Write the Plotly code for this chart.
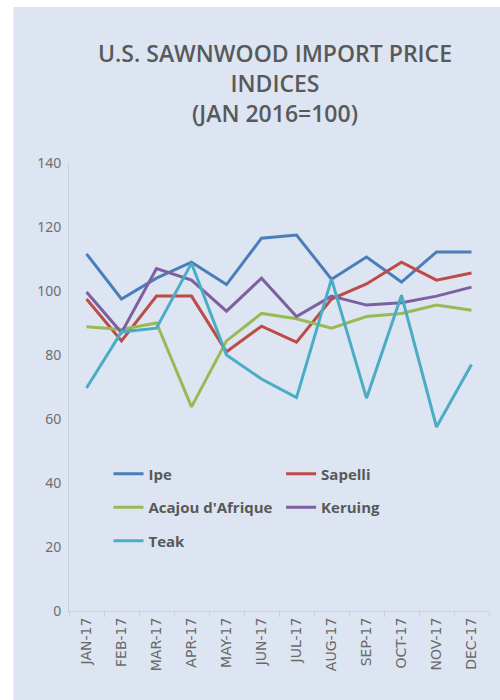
# Gráfico de índices de preço de importação de madeira serrada (EUA)
import plotly.graph_objects as go

# Cores
fundo = '#DCE5F1'
texto = '#595959'

# Dados
meses = ['JAN-17', 'FEB-17', 'MAR-17', 'APR-17', 'MAY-17', 'JUN-17',
         'JUL-17', 'AUG-17', 'SEP-17', 'OCT-17', 'NOV-17', 'DEC-17']
ipe = [111.6, 97.5, 104, 109, 102, 116.5, 117.5, 103.7, 110.6, 102.8, 112.2, 112.2]
sapelli = [97.5, 84.4, 98.4, 98.4, 81, 89, 84, 97.5, 102.2, 109, 103.4, 105.6]
acajou = [88.8, 88, 90, 63.8, 84.4, 93, 91.3, 88.4, 92, 93, 95.6, 94]
keruing = [99.7, 87, 107, 103.4, 93.7, 104, 92, 98.4, 95.6, 96.3, 98.4, 101.2]
teak = [69.7, 87.2, 88.4, 108.7, 80, 72.5, 66.7, 103.7, 66.5, 98.7, 57.5, 77]

series = [
    ('Ipe', ipe, '#4A7EBB', 'legend'),
    ('Sapelli', sapelli, '#BE4B48', 'legend2'),
    ("Acajou d'Afrique", acajou, '#98B954', 'legend'),
    ('Keruing', keruing, '#7D60A0', 'legend2'),
    ('Teak', teak, '#4BACC6', 'legend'),
]

fig = go.Figure()

for nome, valores, cor, leg in series:
    fig.add_trace(go.Scatter(
        x=meses,
        y=valores,
        mode='lines',
        name=nome,
        legend=leg,
        legendgroup=nome,
        line=dict(color=cor, width=3)
    ))

# Fundo azul do quadro (com faixa branca em cima e à esquerda)
fig.add_shape(type='rect', xref='paper', yref='paper',
              x0=-0.132, x1=1.1, y0=-0.25, y1=1.348,
              fillcolor=fundo, line=dict(width=0), layer='below')

legenda = dict(
    bgcolor='rgba(0,0,0,0)',
    font=dict(family='Open Sans', size=15, color=texto, weight='bold'),
    tracegroupgap=11,
    itemwidth=30,
    xanchor='left',
    yanchor='top'
)

fig.update_layout(
    width=500,
    height=700,
    title=dict(
        text='U.S. SAWNWOOD IMPORT PRICE<br>INDICES<br>(JAN 2016=100)',
        x=0.55, xanchor='center',
        y=0.911, yanchor='top',
        font=dict(family='Open Sans', size=23, color=texto, weight=600)
    ),
    paper_bgcolor='white',
    plot_bgcolor='rgba(0,0,0,0)',
    margin=dict(l=68.5, r=10.5, t=163, b=89),
    xaxis=dict(
        title='',
        tickangle=-90,
        tickfont=dict(family='DejaVu Sans', size=14, color='#6a6a6a'),
        automargin=False,
        showgrid=False,
        showline=True,
        linecolor='#C8D0DA',
        ticks='outside',
        ticklen=5,
        tickcolor='#C8D0DA',
        tickson='boundaries',
        range=[-0.5, 11.5]
    ),
    yaxis=dict(
        title='',
        range=[0, 140],
        dtick=20,
        tickfont=dict(family='Noto Sans', size=14, color='#6f6f6f'),
        automargin=False,
        showgrid=False,
        zeroline=False,
        showline=True,
        linecolor='#C8D0DA',
        ticks='',
        ticklabelstandoff=4
    ),
    legend=dict(legenda, x=0.094, y=0.3425),
    legend2=dict(legenda, x=0.505, y=0.3425),
    showlegend=True
)

# Remove a margem padrão da página
fig.write_html("out.html", config=dict(displayModeBar=False),
               post_script="document.body.style.margin='0';")
